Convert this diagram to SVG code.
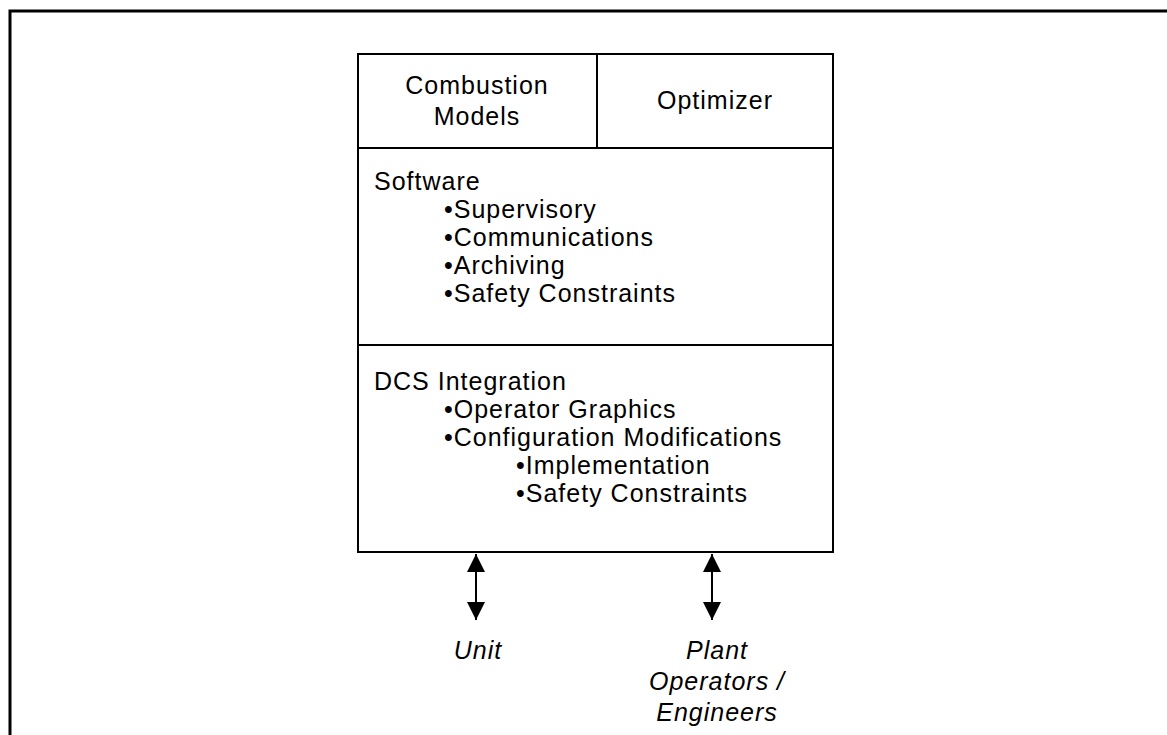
<svg xmlns="http://www.w3.org/2000/svg" width="1167" height="735" viewBox="0 0 1167 735">
<defs>
<style>
.t{font-family:"Liberation Sans",Arial,sans-serif;font-size:25px;letter-spacing:1px;fill:#000}
.c{text-anchor:middle}
.i{font-style:italic}
.box{fill:none;stroke:#000;stroke-width:2}
.ln{stroke:#000;stroke-width:2}
</style>
<marker id="ah" viewBox="0 0 18 26" refX="18" refY="13" markerWidth="18" markerHeight="26" markerUnits="userSpaceOnUse" orient="auto-start-reverse">
<path d="M0,4 L18,13 L0,22 Z" fill="#000"/>
</marker>
</defs>
<rect width="1167" height="735" fill="#fff"/>
<g id="frame">
<path d="M10,745 L10,11 L1177,11" fill="none" stroke="#000" stroke-width="3"/>
</g>
<g id="combustion-models">
<rect class="box" x="358" y="54" width="239" height="94"/>
<text class="t c" x="477" y="94">Combustion</text>
<text class="t c" x="477" y="125">Models</text>
</g>
<g id="optimizer">
<rect class="box" x="597" y="54" width="236" height="94"/>
<text class="t c" x="715" y="109">Optimizer</text>
</g>
<g id="software">
<rect class="box" x="358" y="148" width="475" height="197"/>
<text class="t" x="374" y="190">Software</text>
<text class="t" x="444" y="218">•Supervisory</text>
<text class="t" x="444" y="246">•Communications</text>
<text class="t" x="444" y="274">•Archiving</text>
<text class="t" x="444" y="302">•Safety Constraints</text>
</g>
<g id="dcs-integration">
<rect class="box" x="358" y="345" width="475" height="207"/>
<text class="t" x="374" y="390">DCS Integration</text>
<text class="t" x="444" y="418">•Operator Graphics</text>
<text class="t" x="444" y="446">•Configuration Modifications</text>
<text class="t" x="516" y="474">•Implementation</text>
<text class="t" x="516" y="502">•Safety Constraints</text>
</g>
<g id="unit">
<text class="t c i" x="478" y="659">Unit</text>
</g>
<g id="plant-operators">
<text class="t c i" x="717" y="659">Plant</text>
<text class="t c i" x="717" y="690">Operators /</text>
<text class="t c i" x="717" y="721">Engineers</text>
</g>
<g id="connectors">
<line class="ln" x1="476" y1="554" x2="476" y2="620" marker-start="url(#ah)" marker-end="url(#ah)"/>
<line class="ln" x1="712" y1="554" x2="712" y2="620" marker-start="url(#ah)" marker-end="url(#ah)"/>
</g>
</svg>
